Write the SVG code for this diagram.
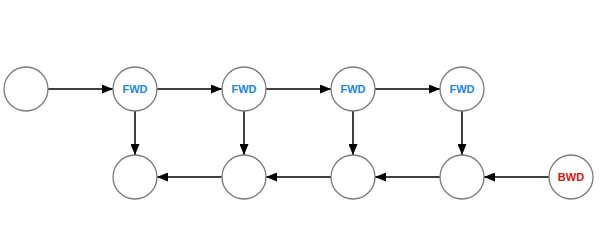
<svg xmlns="http://www.w3.org/2000/svg" width="600" height="240" viewBox="0 0 600 240">
  <style>
    .node circle { fill: #ffffff; stroke: #7a7a7a; stroke-width: 1.3; }
    .edge { stroke: #000000; stroke-width: 1.5; fill: none; marker-end: url(#arrow); }
    .lbl { font-family: "Liberation Sans", Arial, sans-serif; font-size: 11px; font-weight: bold; text-anchor: middle; dominant-baseline: central; }
    .fwd { fill: #1a86e6; }
    .bwd { fill: #d4160c; }
  </style>
  <defs>
    <marker id="arrow" viewBox="0 0 11 9" refX="11" refY="4.5" markerWidth="11" markerHeight="9" markerUnits="userSpaceOnUse" orient="auto">
      <path d="M0,0 L11,4.5 L0,9 Z" fill="#000000"/>
    </marker>
  </defs>
  <rect width="600" height="240" fill="#ffffff"/>

  <g id="connectors">
    <!-- forward chain -->
    <line class="edge" x1="48" y1="89" x2="113" y2="89"/>
    <line class="edge" x1="157" y1="89" x2="222" y2="89"/>
    <line class="edge" x1="266" y1="89" x2="331" y2="89"/>
    <line class="edge" x1="375" y1="89" x2="440" y2="89"/>
    <!-- down links -->
    <line class="edge" x1="135" y1="111" x2="135" y2="155"/>
    <line class="edge" x1="244" y1="111" x2="244" y2="155"/>
    <line class="edge" x1="353" y1="111" x2="353" y2="155"/>
    <line class="edge" x1="462" y1="111" x2="462" y2="155"/>
    <!-- backward chain -->
    <line class="edge" x1="549" y1="177" x2="484" y2="177"/>
    <line class="edge" x1="440" y1="177" x2="375" y2="177"/>
    <line class="edge" x1="331" y1="177" x2="266" y2="177"/>
    <line class="edge" x1="222" y1="177" x2="157" y2="177"/>
  </g>

  <g id="n0" class="node"><circle cx="26" cy="89" r="22"/></g>
  <g id="f1" class="node"><circle cx="135" cy="89" r="22"/><text class="lbl fwd" x="135" y="89">FWD</text></g>
  <g id="f2" class="node"><circle cx="244" cy="89" r="22"/><text class="lbl fwd" x="244" y="89">FWD</text></g>
  <g id="f3" class="node"><circle cx="353" cy="89" r="22"/><text class="lbl fwd" x="353" y="89">FWD</text></g>
  <g id="f4" class="node"><circle cx="462" cy="89" r="22"/><text class="lbl fwd" x="462" y="89">FWD</text></g>

  <g id="b1" class="node"><circle cx="135" cy="177" r="22"/></g>
  <g id="b2" class="node"><circle cx="244" cy="177" r="22"/></g>
  <g id="b3" class="node"><circle cx="353" cy="177" r="22"/></g>
  <g id="b4" class="node"><circle cx="462" cy="177" r="22"/></g>
  <g id="b5" class="node"><circle cx="571" cy="177" r="22"/><text class="lbl bwd" x="571" y="177">BWD</text></g>
</svg>
